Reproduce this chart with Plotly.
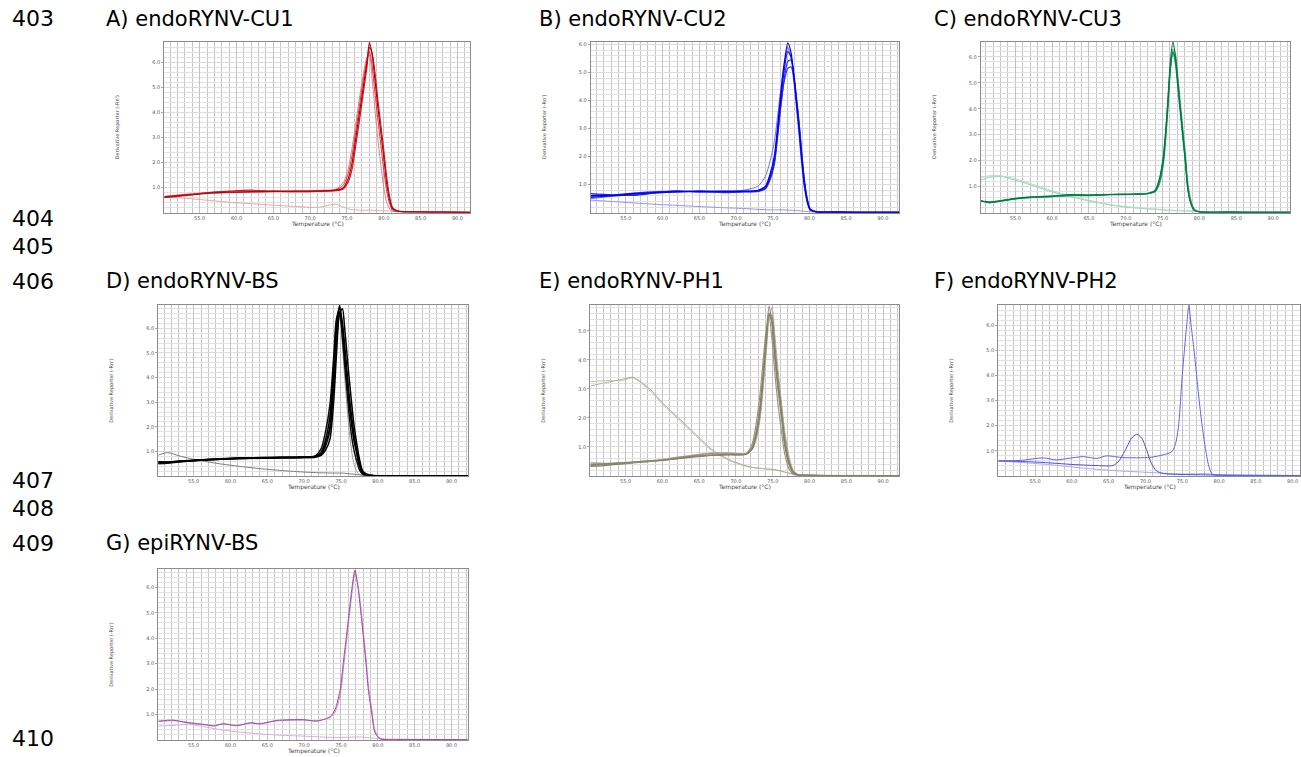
import plotly.graph_objects as go

W, H = 1301, 757

# ---------------- text ----------------
LINE_NUMBERS = ["403", "404", "405", "406", "407", "408", "409", "410"]
LINE_NUMBER_Y = [19, 218, 246, 281, 480, 508, 543, 738]

PANEL_KEYS = ["A", "B", "C", "D", "E", "F", "G"]
TITLES = ["A) endoRYNV-CU1", "B) endoRYNV-CU2", "C) endoRYNV-CU3",
          "D) endoRYNV-BS", "E) endoRYNV-PH1", "F) endoRYNV-PH2",
          "G) epiRYNV-BS"]

X_TICKS = [55, 60, 65, 70, 75, 80, 85, 90]
X_TICK_TEXT = ["55.0", "60.0", "65.0", "70.0", "75.0", "80.0", "85.0", "90.0"]
Y_TICKS = [1, 2, 3, 4, 5, 6]
Y_TICK_TEXT = ["1.0", "2.0", "3.0", "4.0", "5.0", "6.0"]
X_TITLE = "Temperature (°C)"
Y_TITLE = "Derivative Reporter (-Rn')"

# ---------------- data ----------------
# Panel A (endoRYNV-CU1)
T_A = [50.2, 53, 56, 59, 62, 65, 68, 71, 73.5, 74.5, 75.2, 75.7, 76.2, 76.7, 77.2, 77.7,
       78.05, 78.4, 78.8, 79.2, 79.6, 80.0, 80.4, 80.8, 81.2, 82, 85, 88, 91.7]
A_1 = [0.62, 0.70, 0.77, 0.82, 0.84, 0.85, 0.86, 0.87, 0.90, 1.00, 1.40, 2.00, 3.00, 4.00, 5.00, 6.00,
       6.80, 6.35, 5.30, 4.20, 3.20, 2.20, 1.15, 0.50, 0.15, 0.05, 0.03, 0.02, 0.01]
A_2 = [0.60, 0.68, 0.80, 0.86, 0.90, 0.86, 0.84, 0.85, 0.88, 0.95, 1.25, 1.75, 2.70, 3.70, 4.75, 5.80,
       6.60, 6.40, 5.60, 4.50, 3.50, 2.50, 1.40, 0.62, 0.20, 0.06, 0.03, 0.02, 0.01]
A_3 = [0.64, 0.72, 0.78, 0.80, 0.82, 0.84, 0.84, 0.85, 0.92, 1.10, 1.60, 2.30, 3.30, 4.30, 5.30, 6.10,
       6.45, 5.90, 4.80, 3.70, 2.70, 1.70, 0.85, 0.35, 0.10, 0.05, 0.03, 0.02, 0.01]
A_4 = [0.66, 0.74, 0.80, 0.83, 0.85, 0.87, 0.88, 0.89, 0.95, 1.20, 1.80, 2.60, 3.60, 4.60, 5.50, 6.20,
       6.30, 5.40, 4.10, 2.90, 1.90, 1.00, 0.40, 0.15, 0.07, 0.05, 0.03, 0.02, 0.01]
A_NTC = [0.64, 0.58, 0.50, 0.42, 0.36, 0.30, 0.25, 0.21, 0.34, 0.22, 0.15, 0.12, 0.11, 0.10, 0.10, 0.10,
         0.10, 0.10, 0.09, 0.09, 0.08, 0.08, 0.07, 0.07, 0.06, 0.05, 0.04, 0.03, 0.02]

# Panel B (endoRYNV-CU2)
T_B = [50.2, 53, 56, 59, 62, 65, 68, 71, 73, 74, 74.6, 75.2, 75.6, 76.0, 76.5, 77.05, 77.5, 77.9,
       78.2, 78.6, 78.9, 79.3, 79.7, 80.1, 81, 84, 88, 92.2]
B_1 = [0.62, 0.62, 0.68, 0.72, 0.75, 0.76, 0.76, 0.77, 0.80, 0.95, 1.35, 2.00, 2.90, 4.00, 5.20, 6.05,
       5.70, 4.80, 4.00, 2.90, 2.00, 1.00, 0.40, 0.10, 0.03, 0.02, 0.01, 0.01]
B_2 = [0.55, 0.60, 0.66, 0.72, 0.78, 0.74, 0.75, 0.76, 0.78, 0.90, 1.25, 1.85, 2.75, 3.80, 4.95, 5.75,
       5.55, 4.85, 4.10, 3.05, 2.15, 1.10, 0.45, 0.12, 0.03, 0.02, 0.01, 0.01]
B_3 = [0.68, 0.64, 0.62, 0.70, 0.74, 0.78, 0.72, 0.74, 0.76, 0.85, 1.15, 1.70, 2.55, 3.55, 4.65, 5.40,
       5.45, 4.90, 4.20, 3.20, 2.30, 1.20, 0.50, 0.14, 0.03, 0.02, 0.01, 0.01]
B_4 = [0.50, 0.58, 0.64, 0.70, 0.74, 0.76, 0.78, 0.80, 0.95, 1.30, 1.80, 2.50, 3.30, 4.20, 5.20, 5.90,
       5.50, 4.60, 3.80, 2.70, 1.80, 0.90, 0.35, 0.08, 0.03, 0.02, 0.01, 0.01]
B_5 = [0.58, 0.63, 0.70, 0.75, 0.76, 0.74, 0.74, 0.75, 0.77, 0.88, 1.20, 1.75, 2.60, 3.60, 4.60, 5.15,
       5.20, 4.75, 4.10, 3.15, 2.25, 1.15, 0.48, 0.13, 0.03, 0.02, 0.01, 0.01]
B_NTC = [0.45, 0.40, 0.35, 0.30, 0.26, 0.22, 0.18, 0.15, 0.12, 0.11, 0.10, 0.10, 0.10, 0.10, 0.10, 0.09,
         0.09, 0.08, 0.08, 0.07, 0.06, 0.05, 0.04, 0.03, 0.02, 0.02, 0.01, 0.01]

# Panel C (endoRYNV-CU3)
T_C = [50.3, 51.5, 53, 55, 57, 60, 62.5, 65, 68, 71, 73, 74, 74.6, 75.1, 75.4, 75.7, 76.05, 76.4,
       76.75, 77.1, 77.4, 77.75, 78.1, 78.4, 78.8, 79.3, 80, 84, 88, 92.3]
C_1 = [0.46, 0.40, 0.45, 0.55, 0.60, 0.63, 0.70, 0.68, 0.70, 0.71, 0.74, 0.85, 1.30, 2.10, 3.00, 4.20,
       5.80, 6.57, 6.00, 4.90, 4.00, 3.00, 2.00, 1.00, 0.40, 0.10, 0.03, 0.02, 0.01, 0.01]
C_2 = [0.45, 0.42, 0.46, 0.54, 0.58, 0.62, 0.66, 0.66, 0.69, 0.70, 0.73, 0.82, 1.20, 1.95, 2.85, 4.00,
       5.50, 6.20, 5.90, 4.95, 4.05, 3.05, 2.05, 1.05, 0.42, 0.11, 0.03, 0.02, 0.01, 0.01]
C_3 = [0.47, 0.38, 0.44, 0.53, 0.59, 0.64, 0.68, 0.67, 0.70, 0.72, 0.75, 0.88, 1.35, 2.20, 3.10, 4.25,
       5.60, 6.15, 5.70, 4.70, 3.85, 2.85, 1.90, 0.95, 0.38, 0.09, 0.03, 0.02, 0.01, 0.01]
C_4 = [0.44, 0.41, 0.47, 0.55, 0.61, 0.65, 0.69, 0.69, 0.71, 0.72, 0.74, 0.80, 1.10, 1.80, 2.70, 3.85,
       5.40, 6.30, 6.10, 5.20, 4.30, 3.30, 2.30, 1.25, 0.55, 0.15, 0.04, 0.02, 0.01, 0.01]
C_NTC1 = [1.26, 1.36, 1.40, 1.25, 1.08, 0.80, 0.62, 0.45, 0.29, 0.19, 0.15, 0.13, 0.12, 0.10, 0.10, 0.09,
          0.09, 0.09, 0.08, 0.08, 0.08, 0.07, 0.07, 0.07, 0.06, 0.06, 0.05, 0.03, 0.02, 0.02]
C_NTC2 = [1.36, 1.42, 1.42, 1.30, 1.13, 0.84, 0.66, 0.48, 0.31, 0.21, 0.16, 0.14, 0.13, 0.11, 0.10, 0.10,
          0.09, 0.09, 0.09, 0.08, 0.08, 0.08, 0.07, 0.07, 0.06, 0.06, 0.05, 0.03, 0.02, 0.02]

# Panel D (endoRYNV-BS)
T_D = [50.2, 51.5, 53, 55, 58, 61, 64, 67, 70, 71.5, 72.3, 72.9, 73.5, 74.0, 74.4, 74.8, 75.2, 75.5,
       75.8, 76.1, 76.5, 76.8, 77.1, 77.5, 78.0, 79, 82, 86, 92.2]
D_1 = [0.55, 0.56, 0.60, 0.63, 0.68, 0.72, 0.74, 0.75, 0.76, 0.78, 0.90, 1.30, 2.00, 4.00, 6.00, 6.93,
       6.00, 5.00, 4.00, 3.00, 2.00, 1.40, 1.00, 0.45, 0.10, 0.02, 0.01, 0.01, 0.01]
D_2 = [0.52, 0.54, 0.58, 0.62, 0.67, 0.71, 0.73, 0.74, 0.76, 0.82, 1.10, 1.80, 2.90, 4.80, 6.40, 6.70,
       5.60, 4.50, 3.50, 2.50, 1.50, 1.00, 0.65, 0.25, 0.06, 0.02, 0.01, 0.01, 0.01]
D_3 = [0.58, 0.57, 0.61, 0.64, 0.69, 0.73, 0.75, 0.76, 0.77, 0.78, 0.84, 1.05, 1.50, 3.00, 5.00, 6.60,
       6.80, 6.00, 5.00, 4.00, 2.80, 2.00, 1.40, 0.70, 0.18, 0.03, 0.01, 0.01, 0.01]
D_4 = [0.50, 0.52, 0.57, 0.62, 0.67, 0.70, 0.72, 0.73, 0.74, 0.76, 0.86, 1.20, 1.85, 3.60, 5.50, 6.60,
       5.90, 5.00, 4.05, 3.05, 2.05, 1.45, 1.00, 0.42, 0.09, 0.02, 0.01, 0.01, 0.01]
D_5 = [0.56, 0.55, 0.59, 0.63, 0.68, 0.72, 0.74, 0.76, 0.77, 0.80, 0.95, 1.45, 2.40, 4.40, 6.30, 6.85,
       6.20, 5.30, 4.30, 3.30, 2.30, 1.60, 1.10, 0.50, 0.12, 0.02, 0.01, 0.01, 0.01]
D_6 = [0.60, 0.58, 0.60, 0.62, 0.66, 0.70, 0.72, 0.74, 0.75, 0.80, 1.00, 1.60, 2.60, 4.50, 6.20, 6.50,
       5.30, 4.00, 2.90, 1.90, 0.90, 0.45, 0.20, 0.06, 0.03, 0.02, 0.01, 0.01, 0.01]
D_NTC = [0.85, 0.95, 0.82, 0.68, 0.52, 0.40, 0.30, 0.22, 0.16, 0.14, 0.13, 0.13, 0.12, 0.12, 0.12, 0.12,
         0.12, 0.11, 0.10, 0.09, 0.08, 0.07, 0.06, 0.05, 0.04, 0.03, 0.02, 0.02, 0.01]

# Panel E (endoRYNV-PH1)
T_E = [50.2, 52, 54.7, 56, 58.3, 60.1, 62.2, 64.7, 66.7, 69.2, 71.4, 72.2, 72.8, 73.3, 73.7, 74.1,
       74.5, 74.9, 75.3, 75.7, 76.2, 76.6, 77.2, 77.8, 78.5, 80, 84, 88, 92.2]
E_1 = [0.40, 0.42, 0.46, 0.48, 0.52, 0.55, 0.62, 0.69, 0.72, 0.74, 0.76, 1.00, 1.60, 2.50, 3.60, 4.80,
       5.85, 5.20, 4.00, 3.00, 2.00, 1.10, 0.40, 0.10, 0.03, 0.02, 0.01, 0.01, 0.01]
E_2 = [0.33, 0.36, 0.42, 0.45, 0.50, 0.54, 0.60, 0.67, 0.71, 0.73, 0.75, 0.95, 1.50, 2.35, 3.45, 4.60,
       5.55, 5.30, 4.20, 3.15, 2.10, 1.20, 0.45, 0.12, 0.03, 0.02, 0.01, 0.01, 0.01]
E_3 = [0.45, 0.44, 0.45, 0.47, 0.50, 0.56, 0.64, 0.72, 0.78, 0.78, 0.78, 1.10, 1.90, 2.90, 4.00, 5.00,
       5.50, 4.70, 3.50, 2.50, 1.50, 0.80, 0.25, 0.06, 0.03, 0.02, 0.01, 0.01, 0.01]
E_4 = [0.36, 0.40, 0.44, 0.47, 0.51, 0.55, 0.61, 0.68, 0.72, 0.74, 0.75, 0.92, 1.40, 2.20, 3.30, 4.50,
       5.60, 5.50, 4.50, 3.40, 2.30, 1.40, 0.55, 0.15, 0.04, 0.02, 0.01, 0.01, 0.01]
E_5 = [0.38, 0.41, 0.45, 0.48, 0.53, 0.58, 0.66, 0.74, 0.80, 0.80, 0.77, 0.90, 1.30, 2.00, 3.00, 4.20,
       5.40, 5.80, 4.80, 3.70, 2.50, 1.60, 0.70, 0.20, 0.05, 0.02, 0.01, 0.01, 0.01]
E_NTC1 = [3.25, 3.28, 3.30, 3.38, 2.95, 2.45, 1.95, 1.35, 0.88, 0.52, 0.33, 0.29, 0.27, 0.26, 0.25, 0.24,
          0.23, 0.22, 0.21, 0.19, 0.16, 0.13, 0.09, 0.06, 0.04, 0.03, 0.02, 0.02, 0.01]
E_NTC2 = [3.10, 3.20, 3.34, 3.40, 3.00, 2.50, 2.00, 1.40, 0.92, 0.55, 0.35, 0.30, 0.28, 0.27, 0.26, 0.25,
          0.24, 0.23, 0.22, 0.20, 0.17, 0.14, 0.10, 0.07, 0.05, 0.03, 0.02, 0.02, 0.01]

# Panel F (endoRYNV-PH2)
T_F1 = [50.0, 53, 56.1, 57.9, 59.5, 61.55, 63.4, 64.7, 67.0, 70.6, 72.4, 73.6, 74.1, 74.5, 75.0, 75.6,
        75.9, 76.2, 76.6, 76.95, 77.3, 77.7, 78.2, 78.6, 79.0, 79.4, 82, 86, 91.0]
F_1 = [0.60, 0.62, 0.72, 0.64, 0.70, 0.77, 0.70, 0.80, 0.73, 0.74, 0.84, 0.97, 1.30, 2.00, 4.00, 6.00,
       6.78, 6.00, 5.00, 4.00, 3.00, 2.00, 1.00, 0.40, 0.10, 0.03, 0.02, 0.01, 0.01]
T_F2 = [50.0, 53, 56, 60, 63, 65.6, 66.4, 67.2, 68.1, 68.8, 69.5, 70.2, 70.8, 71.5, 72.4, 75, 80, 85, 91.0]
F_2 = [0.60, 0.58, 0.54, 0.46, 0.42, 0.42, 0.60, 0.99, 1.50, 1.66, 1.50, 1.00, 0.50, 0.20, 0.10, 0.06,
       0.04, 0.03, 0.02]
T_F3 = [50.0, 54, 57, 60, 62, 66, 70, 72.5, 75, 77, 78, 79.5, 82, 86, 91.0]
F_NTC = [0.60, 0.52, 0.45, 0.36, 0.30, 0.21, 0.15, 0.11, 0.08, 0.09, 0.10, 0.06, 0.03, 0.02, 0.01]

# Panel G (epiRYNV-BS)
T_G = [50.2, 52.2, 54.1, 56.8, 57.7, 59.0, 60.85, 62.7, 64.0, 66.3, 69.9, 71.7, 73.5, 74.2, 74.9, 75.3,
       75.7, 76.1, 76.5, 76.9, 77.3, 77.7, 78.05, 78.4, 78.7, 79.2, 79.6, 80.3, 84, 88, 92.2]
G_1 = [0.74, 0.78, 0.68, 0.59, 0.55, 0.64, 0.56, 0.68, 0.63, 0.77, 0.80, 0.74, 0.91, 1.20, 2.00, 3.00,
       4.00, 5.00, 6.00, 6.68, 6.00, 5.00, 4.00, 3.00, 2.00, 1.00, 0.30, 0.05, 0.02, 0.02, 0.01]
G_2 = [0.72, 0.76, 0.70, 0.60, 0.57, 0.62, 0.58, 0.66, 0.65, 0.75, 0.78, 0.76, 0.88, 1.10, 1.80, 2.75,
       3.75, 4.80, 5.80, 6.55, 6.10, 5.20, 4.20, 3.20, 2.20, 1.15, 0.38, 0.06, 0.02, 0.02, 0.01]
T_GN = [50.2, 52.2, 54.1, 56.8, 59.0, 62.0, 66.0, 70.0, 74.0, 76.0, 77.5, 80.3, 84, 88, 92.2]
G_NTC = [0.55, 0.57, 0.62, 0.50, 0.39, 0.29, 0.20, 0.15, 0.10, 0.11, 0.12, 0.05, 0.03, 0.02, 0.01]

# ---------------- curves per panel (x array, y array, colour, width) ----------------
CURVES = {
    "A": [(T_A, A_NTC, "#eea4a4", 1), (T_A, A_4, "#e58080", 1), (T_A, A_3, "#d43a3a", 1),
          (T_A, A_2, "#c81e28", 1.2), (T_A, A_1, "#b80010", 1.2)],
    "B": [(T_B, B_NTC, "#9090ff", 1), (T_B, B_4, "#6c6cff", 1), (T_B, B_5, "#3a3aff", 1.2),
          (T_B, B_3, "#2828f4", 1.2), (T_B, B_2, "#1010f0", 1.2), (T_B, B_1, "#0000e8", 1.2)],
    "C": [(T_C, C_NTC1, "#98d2ae", 1), (T_C, C_NTC2, "#ace0c0", 1), (T_C, C_4, "#5cb684", 1),
          (T_C, C_3, "#159a5a", 1.2), (T_C, C_2, "#0a8a4c", 1.2), (T_C, C_1, "#007a40", 1.2)],
    "D": [(T_D, D_NTC, "#7a7a7a", 1), (T_D, D_6, "#9a9a9a", 1), (T_D, D_4, "#202020", 1.5),
          (T_D, D_2, "#101010", 1.5), (T_D, D_5, "#000000", 1.5), (T_D, D_3, "#000000", 1.5),
          (T_D, D_1, "#000000", 1.5)],
    "E": [(T_E, E_NTC1, "#c0bfae", 1), (T_E, E_NTC2, "#b0af9c", 1), (T_E, E_5, "#b0ae98", 1),
          (T_E, E_4, "#8e8c74", 1.2), (T_E, E_2, "#7e7c64", 1.2), (T_E, E_3, "#9a987f", 1.2),
          (T_E, E_1, "#86846c", 1.2)],
    "F": [(T_F3, F_NTC, "#a8a8f6", 1), (T_F2, F_2, "#4a4ae0", 1), (T_F1, F_1, "#6262ec", 1)],
    "G": [(T_GN, G_NTC, "#d8aed8", 1), (T_G, G_2, "#c888c8", 1), (T_G, G_1, "#a04aa0", 1)],
}

# ---------------- layout (pixel boxes, axis ranges) ----------------
PANEL_BOX = {  # left, top, right, bottom (px)
    "A": (164.3, 41.7, 470.0, 212.7),
    "B": (590.7, 41.7, 899.0, 212.7),
    "C": (980.7, 41.7, 1290.0, 212.7),
    "D": (158.3, 305.0, 467.7, 476.0),
    "E": (590.3, 305.0, 899.3, 476.0),
    "F": (998.3, 305.0, 1300.0, 476.0),
    "G": (158.3, 569.0, 467.7, 740.0),
}
X_RANGE = {"A": [50.2, 91.7], "B": [50.2, 92.2], "C": [50.3, 92.3], "D": [50.2, 92.2],
           "E": [50.2, 92.2], "F": [50.0, 91.0], "G": [50.2, 92.2]}
Y_RANGE = {"A": [0, 6.84], "B": [0, 6.1], "C": [0, 6.58], "D": [0, 6.95],
           "E": [0, 5.89], "F": [0, 6.8], "G": [0, 6.72]}
TITLE_POS = {"A": (104, 19), "B": (537, 19), "C": (932, 19), "D": (104, 281),
             "E": (537, 281), "F": (932, 281), "G": (104, 543)}

FONT = "DejaVu Sans"


def px_x(v):
    return v / W


def px_y(v):
    return 1 - v / H


fig = go.Figure()
annotations = []

for i, key in enumerate(PANEL_KEYS, start=1):
    xa = "x" if i == 1 else f"x{i}"
    ya = "y" if i == 1 else f"y{i}"
    for xs, ys, col, lw in CURVES[key]:
        fig.add_trace(go.Scatter(x=xs, y=ys, mode="lines", xaxis=xa, yaxis=ya,
                                 line=dict(color=col, width=lw, shape="spline", smoothing=0.7),
                                 hoverinfo="skip", showlegend=False))
    l, t, r, b = PANEL_BOX[key]
    xname = "xaxis" if i == 1 else f"xaxis{i}"
    yname = "yaxis" if i == 1 else f"yaxis{i}"
    fig.layout[xname] = dict(
        domain=[px_x(l), px_x(r)], anchor=ya, range=X_RANGE[key],
        tickvals=X_TICKS, ticktext=X_TICK_TEXT, tickfont=dict(size=5, color="#555", family=FONT),
        ticks="", ticklabelstandoff=0, showgrid=True, gridcolor="#c2c2c2", gridwidth=1,
        minor=dict(dtick=1, showgrid=True, gridcolor="#c6c6c6", gridwidth=1, ticks=""),
        showline=True, linecolor="#8c8c8c", linewidth=1, mirror=True, zeroline=False,
        fixedrange=True,
    )
    fig.layout[yname] = dict(
        domain=[px_y(b), px_y(t)], anchor=xa, range=Y_RANGE[key],
        tickvals=Y_TICKS, ticktext=Y_TICK_TEXT, tickfont=dict(size=5, color="#555", family=FONT),
        ticks="outside", ticklen=2, tickcolor="#aaaaaa",
        showgrid=True, gridcolor="#dcdcdc", gridwidth=1,
        minor=dict(dtick=0.2, showgrid=True, gridcolor="#e2e2e2", gridwidth=1, ticks=""),
        showline=True, linecolor="#8c8c8c", linewidth=1, mirror=True, zeroline=False,
        fixedrange=True,
    )
    # panel title
    tx, ty = TITLE_POS[key]
    annotations.append(dict(text=TITLES[i - 1], x=px_x(tx), y=px_y(ty), xref="paper", yref="paper",
                            xanchor="left", yanchor="middle", showarrow=False,
                            font=dict(family=FONT, size=21, color="#000")))
    # axis titles
    annotations.append(dict(text=X_TITLE, x=px_x((l + r) / 2), y=px_y(b + 11), xref="paper",
                            yref="paper", xanchor="center", yanchor="middle", showarrow=False,
                            font=dict(family=FONT, size=6, color="#444")))
    annotations.append(dict(text=Y_TITLE, x=px_x(l - 47), y=px_y((t + b) / 2), xref="paper",
                            yref="paper", xanchor="center", yanchor="middle", showarrow=False,
                            textangle=-90, font=dict(family=FONT, size=5, color="#444")))

for num, yy in zip(LINE_NUMBERS, LINE_NUMBER_Y):
    annotations.append(dict(text=num, x=px_x(9.5), y=px_y(yy), xref="paper", yref="paper",
                            xanchor="left", yanchor="middle", showarrow=False,
                            font=dict(family=FONT, size=22, color="#000")))

fig.update_layout(
    width=W, height=H, autosize=False,
    margin=dict(l=0, r=0, t=0, b=0, pad=0),
    paper_bgcolor="white", plot_bgcolor="white",
    annotations=annotations, showlegend=False,
)

fig.write_html("out.html", config={"displayModeBar": False},
               post_script="document.body.style.margin='0';document.body.style.overflow='hidden';")
